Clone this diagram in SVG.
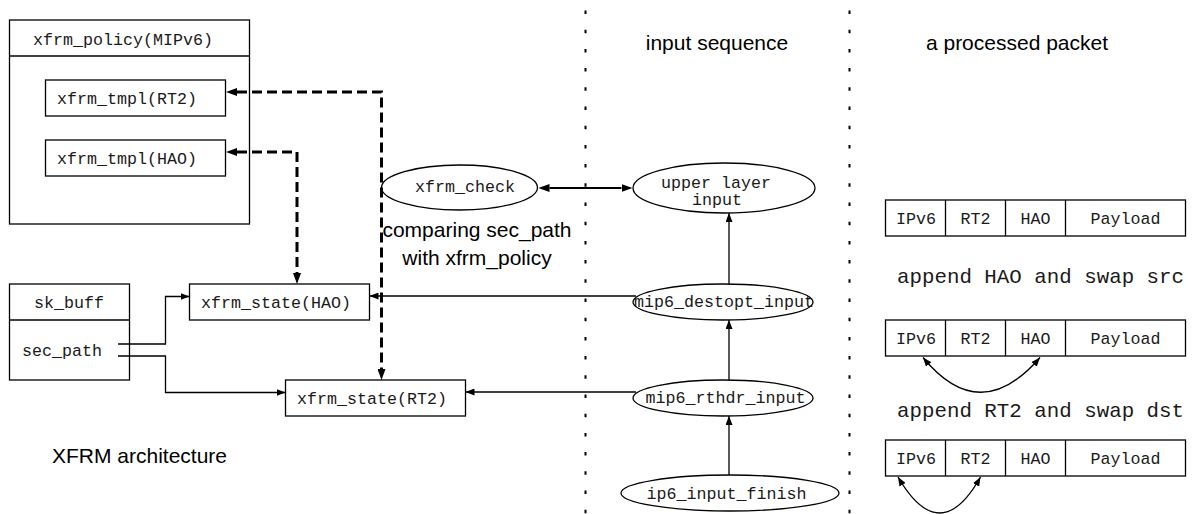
<svg xmlns="http://www.w3.org/2000/svg" width="1203" height="514" viewBox="0 0 1203 514">
<style>
.box{fill:#fff;stroke:#000;stroke-width:1.3}
.mono{font-family:"Liberation Mono","DejaVu Sans Mono",monospace;font-size:16.67px;fill:#1a1a1a}
.big{font-family:"Liberation Mono","DejaVu Sans Mono",monospace;font-size:20.8px;fill:#1a1a1a}
.sans{font-family:"Liberation Sans",Arial,sans-serif;font-size:21px;fill:#000}
.ln{fill:none;stroke:#000;stroke-width:1.3}
.dash{fill:none;stroke:#000;stroke-width:3;stroke-dasharray:10 5}
.dbl{fill:none;stroke:#000;stroke-width:2.2}
.dot{fill:none;stroke:#000;stroke-width:2;stroke-dasharray:3.5 15.7}
</style>
<defs>
<marker id="big" viewBox="0 0 11 8" refX="0" refY="4" markerWidth="11" markerHeight="8" markerUnits="userSpaceOnUse" orient="auto-start-reverse"><path d="M0,0 L11,4 L0,8 z" fill="#000"/></marker>
<marker id="sm" viewBox="0 0 9 7" refX="9" refY="3.5" markerWidth="9" markerHeight="7" markerUnits="userSpaceOnUse" orient="auto-start-reverse"><path d="M0,0 L9,3.5 L0,7 z" fill="#000"/></marker>
</defs>

<g id="separators">
<line class="dot" x1="585.5" y1="10.5" x2="585.5" y2="514"/>
<line class="dot" x1="849.5" y1="10.5" x2="849.5" y2="514"/>
</g>

<g id="titles">
<text class="sans" x="717" y="50" text-anchor="middle">input sequence</text>
<text class="sans" x="1017" y="50" text-anchor="middle">a processed packet</text>
<text class="sans" x="52" y="463">XFRM architecture</text>
<text class="sans" x="477" y="237" text-anchor="middle">comparing sec_path</text>
<text class="sans" x="477" y="265" text-anchor="middle">with xfrm_policy</text>
</g>

<g id="xfrm_policy">
<rect class="box" x="9.5" y="20" width="240" height="204"/>
<line class="ln" x1="9.5" y1="56" x2="249.5" y2="56"/>
<text class="mono" x="33" y="45">xfrm_policy(MIPv6)</text>
</g>
<g id="xfrm_tmpl_rt2">
<rect class="box" x="45.5" y="80" width="180" height="36"/>
<text class="mono" x="57" y="104">xfrm_tmpl(RT2)</text>
</g>
<g id="xfrm_tmpl_hao">
<rect class="box" x="45.5" y="140" width="180" height="36"/>
<text class="mono" x="57" y="164">xfrm_tmpl(HAO)</text>
</g>

<g id="sk_buff">
<rect class="box" x="9.5" y="284" width="120" height="96"/>
<line class="ln" x1="9.5" y1="320" x2="129.5" y2="320"/>
<text class="mono" x="69" y="308" text-anchor="middle">sk_buff</text>
<text class="mono" x="22" y="356">sec_path</text>
</g>

<g id="xfrm_state_hao">
<rect class="box" x="189.5" y="284" width="180" height="36"/>
<text class="mono" x="201" y="308">xfrm_state(HAO)</text>
</g>
<g id="xfrm_state_rt2">
<rect class="box" x="285.5" y="380" width="180" height="36"/>
<text class="mono" x="297" y="404">xfrm_state(RT2)</text>
</g>

<g id="xfrm_check">
<ellipse class="box" cx="459.5" cy="187.5" rx="78" ry="22.5"/>
<text class="mono" x="465" y="192" text-anchor="middle">xfrm_check</text>
</g>
<g id="upper_layer_input">
<ellipse class="box" cx="724" cy="188" rx="91" ry="25"/>
<text class="mono" x="716" y="188" text-anchor="middle">upper layer</text>
<text class="mono" x="717" y="205" text-anchor="middle">input</text>
</g>
<g id="mip6_destopt_input">
<ellipse class="box" cx="723" cy="302" rx="90" ry="18"/>
<text class="mono" x="724" y="307" text-anchor="middle">mip6_destopt_input</text>
</g>
<g id="mip6_rthdr_input">
<ellipse class="box" cx="723" cy="398" rx="90" ry="18"/>
<text class="mono" x="725.5" y="403" text-anchor="middle">mip6_rthdr_input</text>
</g>
<g id="ip6_input_finish">
<ellipse class="box" cx="730" cy="493" rx="109" ry="18"/>
<text class="mono" x="726.5" y="499" text-anchor="middle">ip6_input_finish</text>
</g>

<g id="packet1">
<rect class="box" x="885.5" y="200" width="300" height="36"/>
<line class="ln" x1="945.5" y1="200" x2="945.5" y2="236"/>
<line class="ln" x1="1005.5" y1="200" x2="1005.5" y2="236"/>
<line class="ln" x1="1065.5" y1="200" x2="1065.5" y2="236"/>
<text class="mono" x="916" y="224" text-anchor="middle">IPv6</text>
<text class="mono" x="975.5" y="224" text-anchor="middle">RT2</text>
<text class="mono" x="1035.5" y="224" text-anchor="middle">HAO</text>
<text class="mono" x="1125.5" y="224" text-anchor="middle">Payload</text>
</g>
<text class="big" x="897" y="283">append HAO and swap src</text>
<g id="packet2">
<rect class="box" x="885.5" y="320" width="300" height="36"/>
<line class="ln" x1="945.5" y1="320" x2="945.5" y2="356"/>
<line class="ln" x1="1005.5" y1="320" x2="1005.5" y2="356"/>
<line class="ln" x1="1065.5" y1="320" x2="1065.5" y2="356"/>
<text class="mono" x="916" y="344" text-anchor="middle">IPv6</text>
<text class="mono" x="975.5" y="344" text-anchor="middle">RT2</text>
<text class="mono" x="1035.5" y="344" text-anchor="middle">HAO</text>
<text class="mono" x="1125.5" y="344" text-anchor="middle">Payload</text>
</g>
<text class="big" x="897" y="417">append RT2 and swap dst</text>
<g id="packet3">
<rect class="box" x="885.5" y="440" width="300" height="36"/>
<line class="ln" x1="945.5" y1="440" x2="945.5" y2="476"/>
<line class="ln" x1="1005.5" y1="440" x2="1005.5" y2="476"/>
<line class="ln" x1="1065.5" y1="440" x2="1065.5" y2="476"/>
<text class="mono" x="916" y="464" text-anchor="middle">IPv6</text>
<text class="mono" x="975.5" y="464" text-anchor="middle">RT2</text>
<text class="mono" x="1035.5" y="464" text-anchor="middle">HAO</text>
<text class="mono" x="1125.5" y="464" text-anchor="middle">Payload</text>
</g>

<g id="connectors">
<path class="dash" d="M237,92 H381.5 V369" marker-start="url(#big)" marker-end="url(#big)"/>
<path class="dash" d="M237,152 H297 V273" marker-start="url(#big)" marker-end="url(#big)"/>
<path class="dbl" d="M549.5,188 H621.5" marker-start="url(#big)" marker-end="url(#big)"/>
<path class="ln" d="M118,344 H165.5 V296.5 H189.5" marker-end="url(#sm)"/>
<path class="ln" d="M118,356 H165.5 V392.5 H285.5" marker-end="url(#sm)"/>
<path class="ln" d="M636,296 H369.5" marker-end="url(#sm)"/>
<path class="ln" d="M636,392 H465.5" marker-end="url(#sm)"/>
<path class="ln" d="M729,475 V416" marker-end="url(#sm)"/>
<path class="ln" d="M729,380 V320" marker-end="url(#sm)"/>
<path class="ln" d="M729,284 V213" marker-end="url(#sm)"/>
<path class="ln" d="M923,357.5 Q980,427 1040,357.5" marker-start="url(#sm)" marker-end="url(#sm)"/>
<path class="ln" d="M898,477 Q940,549 980.5,477" marker-start="url(#sm)" marker-end="url(#sm)"/>
</g>
</svg>
